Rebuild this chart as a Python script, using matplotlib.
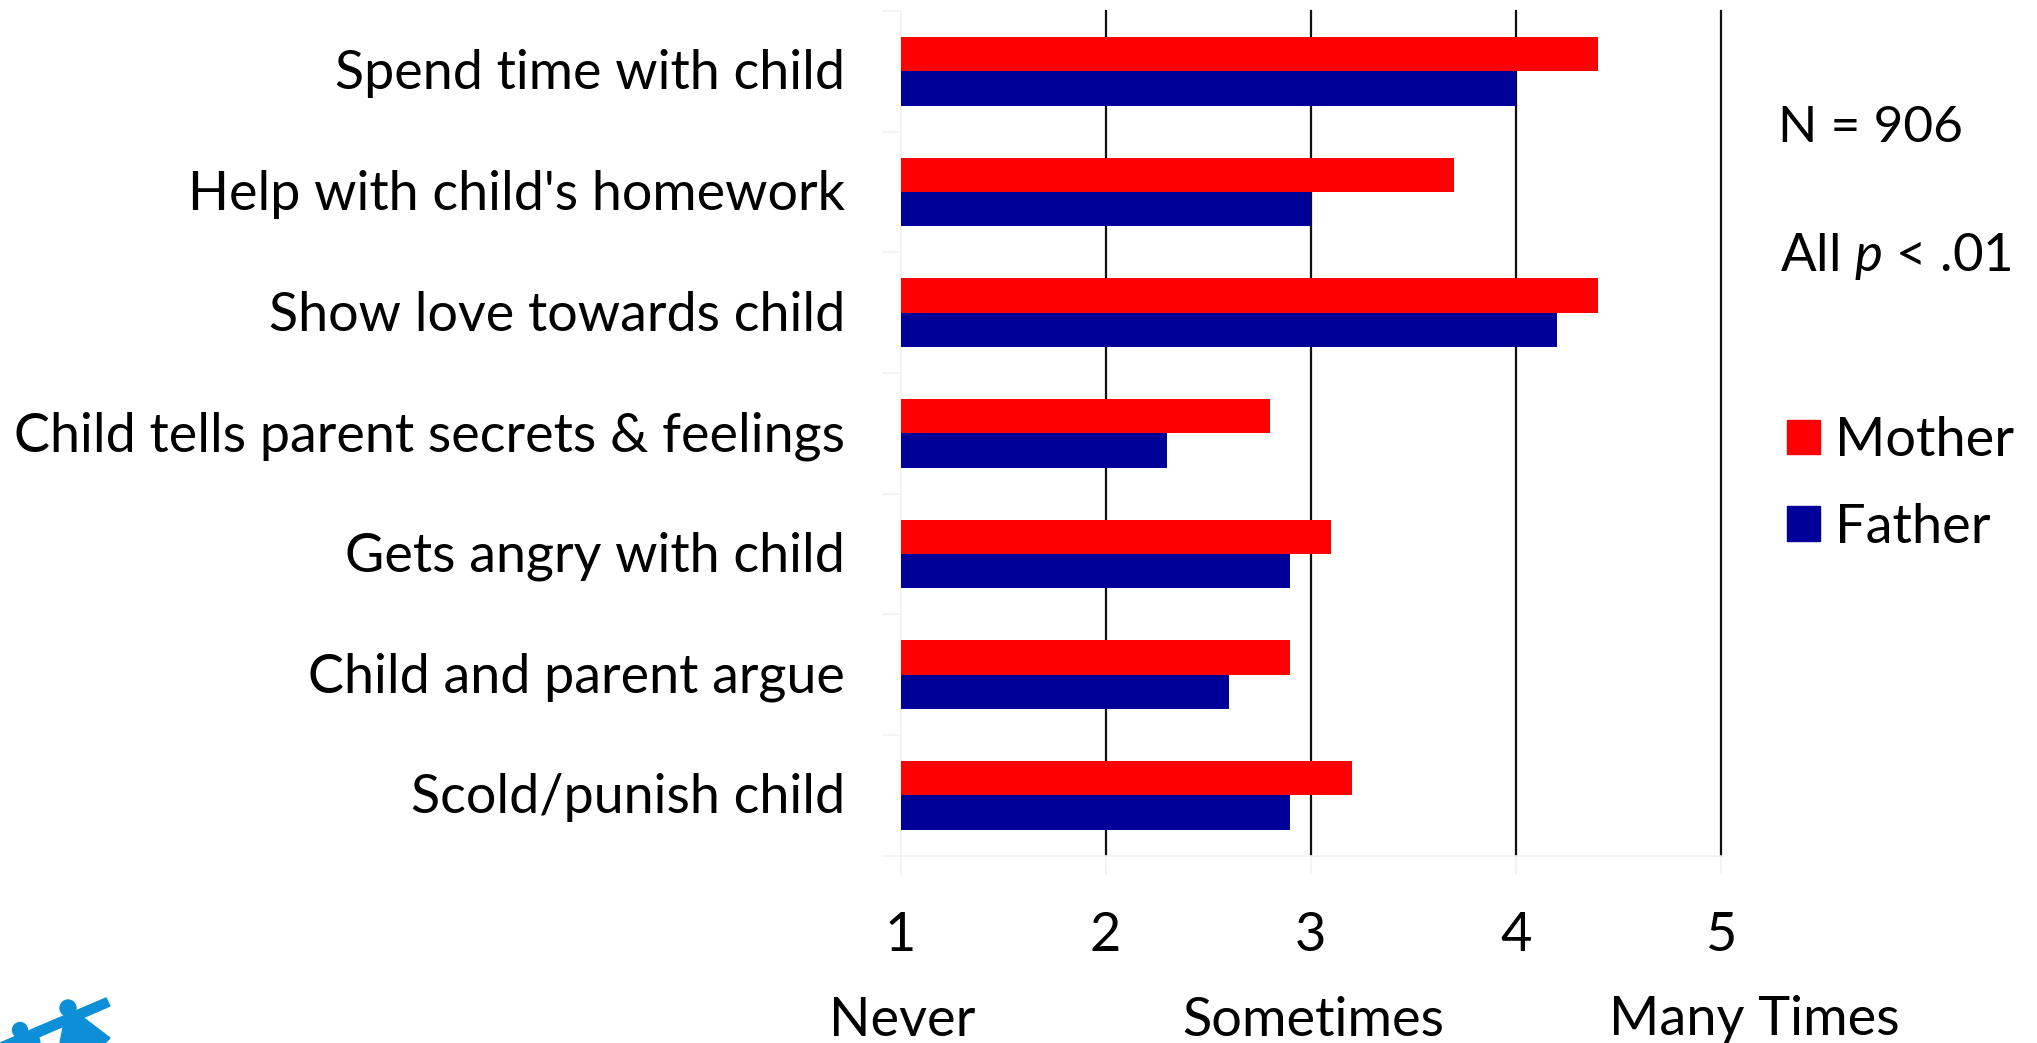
import matplotlib
matplotlib.use("Agg")
import matplotlib.pyplot as plt
from matplotlib.patches import Polygon, Circle, Patch
from matplotlib.transforms import blended_transform_factory, ScaledTranslation
import numpy as np

categories = ["Spend time with child", "Help with child's homework", "Show love towards child",
              "Child tells parent secrets & feelings", "Gets angry with child",
              "Child and parent argue", "Scold/punish child"]
mother = [4.4, 3.7, 4.4, 2.8, 3.1, 2.9, 3.2]
father = [4.0, 3.0, 4.2, 2.3, 2.9, 2.6, 2.9]
xticks = [1, 2, 3, 4, 5]
scale_labels = ["Never", "Sometimes", "Many Times"]
scale_pos = [1.01, 3.01, 5.16]

W, H = 2037, 1043
RED = "#ff0000"
BLUE = "#000099"
LIGHT = "#f2f2f2"
FS = 39

plt.rcParams["font.family"] = ["Lato", "DejaVu Sans"]
plt.rcParams["mathtext.fontset"] = "custom"
plt.rcParams["mathtext.it"] = "Lato:italic"
plt.rcParams["mathtext.rm"] = "Lato"

fig = plt.figure(figsize=(W / 100, H / 100), dpi=100)
#Ejes ubicados en pixeles de la imagen
left, right, top, bottom = 900.5, 1721, 11, 855.5
ax = fig.add_axes([left / W, 1 - bottom / H, (right - left) / W, (bottom - top) / H])

y = np.arange(len(categories))
bar_h = 0.285
ax.barh(y - bar_h / 2, np.array(mother) - 1, bar_h, left=1, color=RED, zorder=3)
ax.barh(y + bar_h / 2, np.array(father) - 1, bar_h, left=1, color=BLUE, zorder=3)

ax.set_xlim(1, 5)
ax.set_ylim(len(categories) - 0.5, -0.5)

for sp in ["top", "right"]:
    ax.spines[sp].set_visible(False)
for sp in ["left", "bottom"]:
    ax.spines[sp].set_color(LIGHT)
    ax.spines[sp].set_linewidth(1.2)

ax.set_xticks(xticks)
ax.set_xticklabels([str(i) for i in xticks], fontsize=FS)
ax.tick_params(axis="x", length=14, width=1.2, color=LIGHT, pad=26)
ax.set_yticks(y)
ax.set_yticklabels(categories, fontsize=38.8)
ax.tick_params(axis="y", which="major", length=0, pad=40)
ax.set_yticks(np.arange(len(categories) + 1) - 0.5, minor=True)
ax.tick_params(axis="y", which="minor", length=14, width=1.2, color=LIGHT)
#Subo un poco las etiquetas de categoria
for lab in ax.get_yticklabels():
    lab.set_transform(lab.get_transform() + ScaledTranslation(0, 2 / 100, fig.dpi_scale_trans))

for v in xticks[1:]:
    ax.axvline(v, color="#111111", lw=1.6, zorder=1, clip_on=False)

#Etiquetas de la escala
trans = blended_transform_factory(ax.transData, fig.transFigure)
for lab, pos in zip(scale_labels, scale_pos):
    ax.text(pos, 1 - 1020 / H, lab, transform=trans, ha="center", va="center", fontsize=FS, clip_on=False)

fig.text(1778 / W, 1 - 128 / H, "N = 906", fontsize=37, ha="left", va="center")
fig.text(1780 / W, 1 - 257 / H, r"All $p$ < .01", fontsize=38, ha="left", va="center")

handles = [Patch(color=RED, label="Mother"), Patch(color=BLUE, label="Father")]
fig.legend(handles=handles, loc="upper left", bbox_to_anchor=(1787 / W, 1 - 416 / H), frameon=False,
           fontsize=FS, handlelength=0.61, handleheight=0.61, handletextpad=0.27, labelspacing=0.70,
           borderpad=0, borderaxespad=0)

#Logo cortado abajo a la izquierda
bg = fig.add_axes([0, 0, 1, 1], zorder=-1)
bg.set_xlim(0, W)
bg.set_ylim(H, 0)
bg.axis("off")
LOGO = "#0d8fd8"
bg.add_patch(Polygon([[0, 1043], [106, 998], [110, 1006], [25, 1043]], color=LOGO))
bg.add_patch(Polygon([[66, 1012], [76, 1012], [110, 1038], [105, 1043], [60, 1043]], color=LOGO))
bg.add_patch(Circle((68, 1008), 8, color=LOGO))
bg.add_patch(Circle((20, 1030), 7.5, color=LOGO))
bg.add_patch(Polygon([[8, 1040], [38, 1034], [40, 1043], [5, 1043]], color=LOGO))

fig.savefig("out.png", dpi=100)
